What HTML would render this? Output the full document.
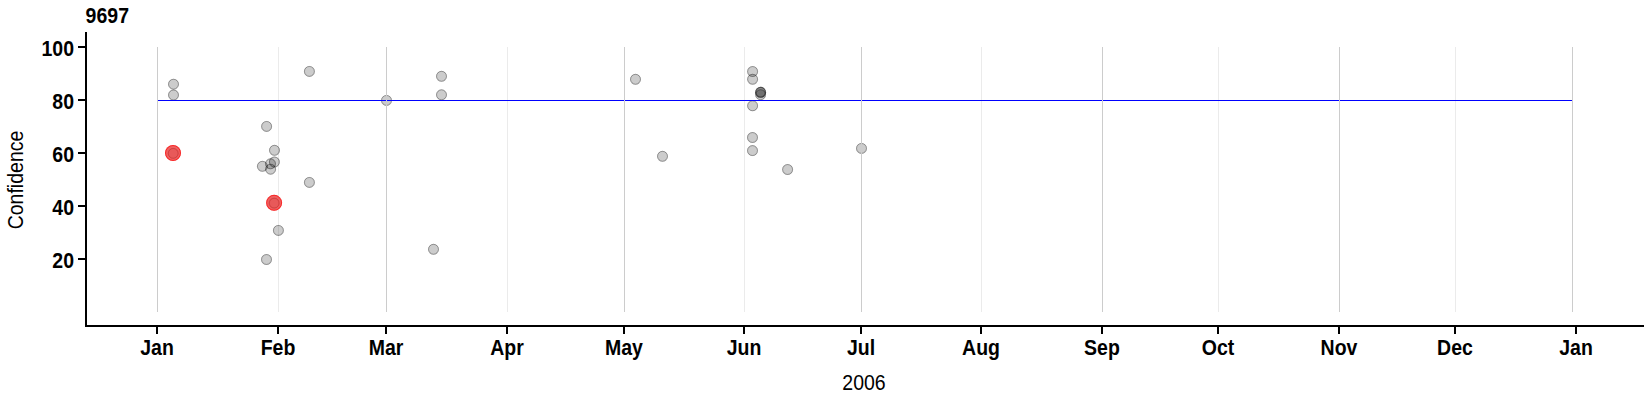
<!DOCTYPE html>
<html><head><meta charset="utf-8"><style>
html,body{margin:0;padding:0;background:#fff;}
svg{display:block;}
text{font-family:"Liberation Sans",Arial,sans-serif;fill:#000;}
.b{font-weight:bold;font-size:21.2px;}
.r{font-size:21.2px;}
</style></head><body>
<svg width="1650" height="400" viewBox="0 0 1650 400">
<rect width="1650" height="400" fill="#fff"/>

<line x1="278.5" y1="47" x2="278.5" y2="312" stroke="#ebebeb" stroke-width="1"/>
<line x1="507.5" y1="47" x2="507.5" y2="312" stroke="#ebebeb" stroke-width="1"/>
<line x1="744.5" y1="47" x2="744.5" y2="312" stroke="#ebebeb" stroke-width="1"/>
<line x1="981.5" y1="47" x2="981.5" y2="312" stroke="#ebebeb" stroke-width="1"/>
<line x1="1218.5" y1="47" x2="1218.5" y2="312" stroke="#ebebeb" stroke-width="1"/>
<line x1="1455.5" y1="47" x2="1455.5" y2="312" stroke="#ebebeb" stroke-width="1"/>
<g fill="rgba(0,0,0,0.2)">
<circle cx="173.5" cy="84.2" r="5.5"/>
<circle cx="173.5" cy="95.0" r="5.5"/>
<circle cx="173.2" cy="153.3" r="5.5"/>
<circle cx="266.6" cy="126.4" r="5.5"/>
<circle cx="274.5" cy="150.3" r="5.5"/>
<circle cx="274.4" cy="162.0" r="5.5"/>
<circle cx="270.5" cy="163.8" r="5.5"/>
<circle cx="262.4" cy="166.3" r="5.5"/>
<circle cx="270.6" cy="169.2" r="5.5"/>
<circle cx="274.0" cy="203.0" r="5.5"/>
<circle cx="278.4" cy="230.4" r="5.5"/>
<circle cx="266.5" cy="259.5" r="5.5"/>
<circle cx="309.4" cy="71.4" r="5.5"/>
<circle cx="309.4" cy="182.4" r="5.5"/>
<circle cx="386.5" cy="100.4" r="5.5"/>
<circle cx="441.5" cy="76.3" r="5.5"/>
<circle cx="441.5" cy="94.8" r="5.5"/>
<circle cx="433.5" cy="249.3" r="5.5"/>
<circle cx="635.5" cy="79.3" r="5.5"/>
<circle cx="662.5" cy="156.3" r="5.5"/>
<circle cx="752.6" cy="71.5" r="5.5"/>
<circle cx="752.6" cy="79.25" r="5.5"/>
<circle cx="760.6" cy="94.7" r="5.5"/>
<circle cx="752.6" cy="105.75" r="5.5"/>
<circle cx="752.5" cy="137.5" r="5.5"/>
<circle cx="752.5" cy="150.6" r="5.5"/>
<circle cx="787.6" cy="169.5" r="5.5"/>
<circle cx="861.5" cy="148.4" r="5.5"/>
</g>
<g fill="none" stroke="rgba(0,0,0,0.3)" stroke-width="1">
<circle cx="173.5" cy="84.2" r="4.95"/>
<circle cx="173.5" cy="95.0" r="4.95"/>
<circle cx="173.2" cy="153.3" r="4.95"/>
<circle cx="266.6" cy="126.4" r="4.95"/>
<circle cx="274.5" cy="150.3" r="4.95"/>
<circle cx="274.4" cy="162.0" r="4.95"/>
<circle cx="270.5" cy="163.8" r="4.95"/>
<circle cx="262.4" cy="166.3" r="4.95"/>
<circle cx="270.6" cy="169.2" r="4.95"/>
<circle cx="274.0" cy="203.0" r="4.95"/>
<circle cx="278.4" cy="230.4" r="4.95"/>
<circle cx="266.5" cy="259.5" r="4.95"/>
<circle cx="309.4" cy="71.4" r="4.95"/>
<circle cx="309.4" cy="182.4" r="4.95"/>
<circle cx="386.5" cy="100.4" r="4.95"/>
<circle cx="441.5" cy="76.3" r="4.95"/>
<circle cx="441.5" cy="94.8" r="4.95"/>
<circle cx="433.5" cy="249.3" r="4.95"/>
<circle cx="635.5" cy="79.3" r="4.95"/>
<circle cx="662.5" cy="156.3" r="4.95"/>
<circle cx="752.6" cy="71.5" r="4.95"/>
<circle cx="752.6" cy="79.25" r="4.95"/>
<circle cx="760.6" cy="94.7" r="4.95"/>
<circle cx="752.6" cy="105.75" r="4.95"/>
<circle cx="752.5" cy="137.5" r="4.95"/>
<circle cx="752.5" cy="150.6" r="4.95"/>
<circle cx="787.6" cy="169.5" r="4.95"/>
<circle cx="861.5" cy="148.4" r="4.95"/>
</g>
<circle cx="760.6" cy="92.3" r="5.5" fill="rgba(0,0,0,0.45)"/>
<circle cx="760.6" cy="92.3" r="4.85" fill="none" stroke="rgba(0,0,0,0.45)" stroke-width="1.2"/>
<g fill="rgba(236,68,68,0.85)">
<circle cx="173.0" cy="153.0" r="8"/>
<circle cx="274.1" cy="202.8" r="8"/>
</g>
<g fill="none" stroke="rgba(255,0,0,0.6)" stroke-width="1">
<circle cx="173.0" cy="153.0" r="7.5"/>
<circle cx="274.1" cy="202.8" r="7.5"/>
</g>
<g fill="none" stroke="rgba(150,0,0,0.18)" stroke-width="1">
<circle cx="173.2" cy="153.4" r="4.9"/>
<circle cx="274.3" cy="203.20000000000002" r="4.9"/>
</g>
<line x1="157.5" y1="100.5" x2="1572.5" y2="100.5" stroke="#0000ff" stroke-width="1"/>
<line x1="157.5" y1="47" x2="157.5" y2="312" stroke="#cccccc" stroke-width="1"/>
<line x1="386.5" y1="47" x2="386.5" y2="312" stroke="#cccccc" stroke-width="1"/>
<line x1="624.5" y1="47" x2="624.5" y2="312" stroke="#cccccc" stroke-width="1"/>
<line x1="861.5" y1="47" x2="861.5" y2="312" stroke="#cccccc" stroke-width="1"/>
<line x1="1102.5" y1="47" x2="1102.5" y2="312" stroke="#cccccc" stroke-width="1"/>
<line x1="1339.5" y1="47" x2="1339.5" y2="312" stroke="#cccccc" stroke-width="1"/>
<line x1="1572.5" y1="47" x2="1572.5" y2="312" stroke="#cccccc" stroke-width="1"/>
<g stroke="#000" stroke-width="2" fill="none">
<path d="M86 32 V327 M85 326 H1644"/>
<path d="M78 47 H86"/>
<path d="M78 100 H86"/>
<path d="M78 153 H86"/>
<path d="M78 206 H86"/>
<path d="M78 259 H86"/>
<path d="M157 326 V334"/>
<path d="M278 326 V334"/>
<path d="M386 326 V334"/>
<path d="M507 326 V334"/>
<path d="M624 326 V334"/>
<path d="M744 326 V334"/>
<path d="M861 326 V334"/>
<path d="M981 326 V334"/>
<path d="M1102 326 V334"/>
<path d="M1218 326 V334"/>
<path d="M1339 326 V334"/>
<path d="M1455 326 V334"/>
<path d="M1576 326 V334"/>
</g>
<text class="b" transform="translate(74,55.5) scale(0.92,1)" text-anchor="end">100</text>
<text class="b" transform="translate(74,108.5) scale(0.92,1)" text-anchor="end">80</text>
<text class="b" transform="translate(74,161.5) scale(0.92,1)" text-anchor="end">60</text>
<text class="b" transform="translate(74,214.5) scale(0.92,1)" text-anchor="end">40</text>
<text class="b" transform="translate(74,267.5) scale(0.92,1)" text-anchor="end">20</text>
<text class="b" transform="translate(157,355) scale(0.92,1)" text-anchor="middle">Jan</text>
<text class="b" transform="translate(278,355) scale(0.92,1)" text-anchor="middle">Feb</text>
<text class="b" transform="translate(386,355) scale(0.92,1)" text-anchor="middle">Mar</text>
<text class="b" transform="translate(507,355) scale(0.92,1)" text-anchor="middle">Apr</text>
<text class="b" transform="translate(624,355) scale(0.92,1)" text-anchor="middle">May</text>
<text class="b" transform="translate(744,355) scale(0.92,1)" text-anchor="middle">Jun</text>
<text class="b" transform="translate(861,355) scale(0.92,1)" text-anchor="middle">Jul</text>
<text class="b" transform="translate(981,355) scale(0.92,1)" text-anchor="middle">Aug</text>
<text class="b" transform="translate(1102,355) scale(0.92,1)" text-anchor="middle">Sep</text>
<text class="b" transform="translate(1218,355) scale(0.92,1)" text-anchor="middle">Oct</text>
<text class="b" transform="translate(1339,355) scale(0.92,1)" text-anchor="middle">Nov</text>
<text class="b" transform="translate(1455,355) scale(0.92,1)" text-anchor="middle">Dec</text>
<text class="b" transform="translate(1576,355) scale(0.92,1)" text-anchor="middle">Jan</text>
<text class="b" transform="translate(85.6,22.5) scale(0.92,1)" text-anchor="start">9697</text>
<text class="r" transform="translate(864,390) scale(0.92,1)" text-anchor="middle">2006</text>
<text class="r" transform="translate(23.2,180) rotate(-90) scale(0.92,1)" text-anchor="middle">Confidence</text>
</svg>
</body></html>
